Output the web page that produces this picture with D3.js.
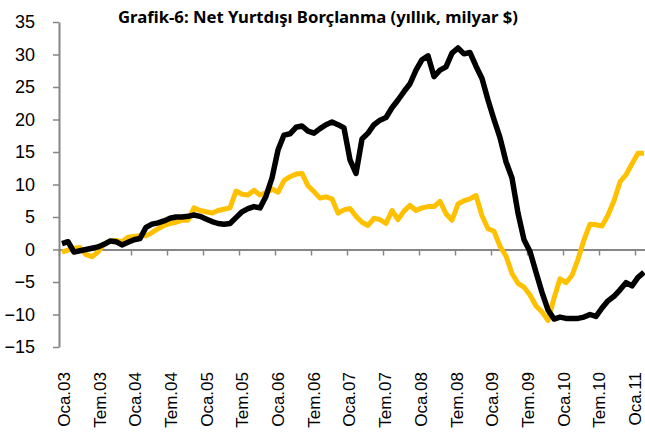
<!DOCTYPE html>
<html><head><meta charset="utf-8">
<script src="https://cdn.jsdelivr.net/npm/d3@7"></script>
<style>body{margin:0;background:#fff}svg{display:block}</style>
</head><body><svg id="c" width="645" height="438"></svg>
<script>
// ---- data ----
const monthAbbr = ["Oca","Şub","Mar","Nis","May","Haz","Tem","Ağu","Eyl","Eki","Kas","Ara"];
const firstYear = 2003;
const monthCount = 98; // Oca.03 .. Şub.11
const categories = d3.range(monthCount).map(i => monthAbbr[i % 12] + "." + String((firstYear + Math.floor(i / 12)) % 100).padStart(2, "0"));
const tickLabels = ["Oca.03","Tem.03","Oca.04","Tem.04","Oca.05","Tem.05","Oca.06","Tem.06","Oca.07","Tem.07","Oca.08","Tem.08","Oca.09","Tem.09","Oca.10","Tem.10","Oca.11"];
const yTicks = [-15,-10,-5,0,5,10,15,20,25,30,35];
const seriesBlack = [
  0.9, 1.2, -0.4, -0.2, 0.0, 0.2, 0.4, 0.8, 1.3, 1.2,
  0.7, 1.1, 1.5, 1.7, 3.4, 3.9, 4.1, 4.4, 4.8, 5.0,
  5.0, 5.1, 5.3, 5.1, 4.7, 4.3, 4.0, 3.9, 4.0, 4.9,
  5.8, 6.3, 6.6, 6.4, 8.2, 11.0, 15.3, 17.6, 17.8, 18.8,
  19.0, 18.2, 17.9, 18.6, 19.2, 19.6, 19.2, 18.7, 13.8, 11.7,
  17.0, 17.9, 19.2, 19.9, 20.3, 21.8, 23.0, 24.3, 25.5, 27.6,
  29.2, 29.8, 26.6, 27.6, 28.1, 30.2, 31.0, 30.1, 30.3, 28.2,
  26.3, 23.0, 20.0, 17.2, 13.5, 11.0, 5.6, 1.5, -0.3, -3.5,
  -6.6, -9.3, -10.7, -10.4, -10.6, -10.6, -10.6, -10.4, -10.0, -10.3,
  -9.0, -7.9, -7.2, -6.2, -5.1, -5.6, -4.3, -3.5
];
const seriesYellow = [
  -0.4, -0.1, 0.2, 0.3, -0.8, -1.1, -0.4, 0.8, 1.3, 1.4,
  1.2, 1.9, 2.0, 2.1, 2.1, 2.6, 3.2, 3.7, 4.0, 4.2,
  4.5, 4.5, 6.4, 6.0, 5.8, 5.6, 6.0, 6.2, 6.4, 9.0,
  8.5, 8.4, 9.1, 8.4, 8.7, 9.3, 8.8, 10.6, 11.2, 11.6,
  11.7, 9.8, 8.9, 7.9, 8.1, 7.8, 5.6, 6.1, 6.3, 5.1,
  4.2, 3.7, 4.8, 4.6, 4.0, 6.0, 4.6, 5.9, 6.8, 6.0,
  6.4, 6.6, 6.6, 7.4, 5.5, 4.5, 7.0, 7.5, 7.8, 8.3,
  5.2, 3.2, 2.8, 0.5, -1.0, -3.7, -5.2, -5.8, -7.0, -8.7,
  -9.6, -10.9, -7.5, -4.5, -5.1, -4.0, -1.5, 1.5, 3.9, 3.8,
  3.6, 5.3, 7.5, 10.4, 11.5, 13.2, 14.8, 14.8
];
const title = "Grafik-6: Net Yurtdışı Borçlanma (yıllık, milyar $)";

// ---- chart ----
const svg = d3.select("#c");
const mLeft = 59, mTop = 22, mBottom = 347, step = 6;
const x = d3.scaleBand().domain(categories).range([mLeft, mLeft + monthCount * step]).padding(0);
const xi = d3.scaleLinear().domain([0, monthCount]).range([mLeft, mLeft + monthCount * step]);
const xl = d3.scalePoint().domain(tickLabels).range([64, 635]);
const y = d3.scaleLinear().domain([-15, 35]).range([mBottom, mTop]);
const cx = c => x(c) + x.bandwidth() / 2;
const axisColor = "#868686";

svg.append("text")
  .attr("x", 318).attr("y", 23)
  .attr("text-anchor", "middle")
  .attr("font-family", "'Noto Sans', sans-serif")
  .attr("font-weight", "bold")
  .attr("font-size", 16.5)
  .attr("textLength", 400)
  .attr("lengthAdjust", "spacingAndGlyphs")
  .attr("fill", "#000")
  .text(title);

// y axis
const gy = svg.append("g").attr("transform", `translate(${mLeft},0)`)
  .call(d3.axisLeft(y).tickValues(yTicks).tickSize(6).tickSizeOuter(0).tickPadding(18).tickFormat(d3.format("d")));
gy.select(".domain").attr("stroke", axisColor).attr("stroke-width", 2);
gy.selectAll(".tick line").attr("stroke", axisColor).attr("stroke-width", 1.5);
gy.selectAll(".tick text").attr("font-family", "'Liberation Sans', Arial, sans-serif").attr("font-size", 18).attr("fill", "#000");

// x axis at zero
const gx = svg.append("g").attr("transform", `translate(0,${y(0)})`)
  .call(d3.axisBottom(xi).tickValues(d3.range(0, monthCount, 6)).tickSize(6).tickSizeOuter(0).tickFormat(""));
gx.select(".domain").attr("stroke", axisColor).attr("stroke-width", 2);
gx.selectAll(".tick line").attr("stroke", axisColor).attr("stroke-width", 1.5);

// x labels
svg.append("g").selectAll("text").data(tickLabels).join("text")
  .attr("transform", d => `translate(${xl(d)},372) rotate(-90)`)
  .attr("text-anchor", "end")
  .attr("dy", "0.35em")
  .attr("font-family", "'Liberation Sans', Arial, sans-serif")
  .attr("font-size", 17)
  .attr("fill", "#000")
  .text(d => d);

const line = d3.line().x((d, i) => cx(categories[i])).y(d => y(d)).curve(d3.curveLinear);
svg.append("path").datum(seriesYellow).attr("d", line)
  .attr("fill", "none").attr("stroke", "#FFC000").attr("stroke-width", 5).attr("stroke-linejoin", "round");
svg.append("path").datum(seriesBlack).attr("d", line)
  .attr("fill", "none").attr("stroke", "#000").attr("stroke-width", 5.5).attr("stroke-linejoin", "round");
</script></body></html>
